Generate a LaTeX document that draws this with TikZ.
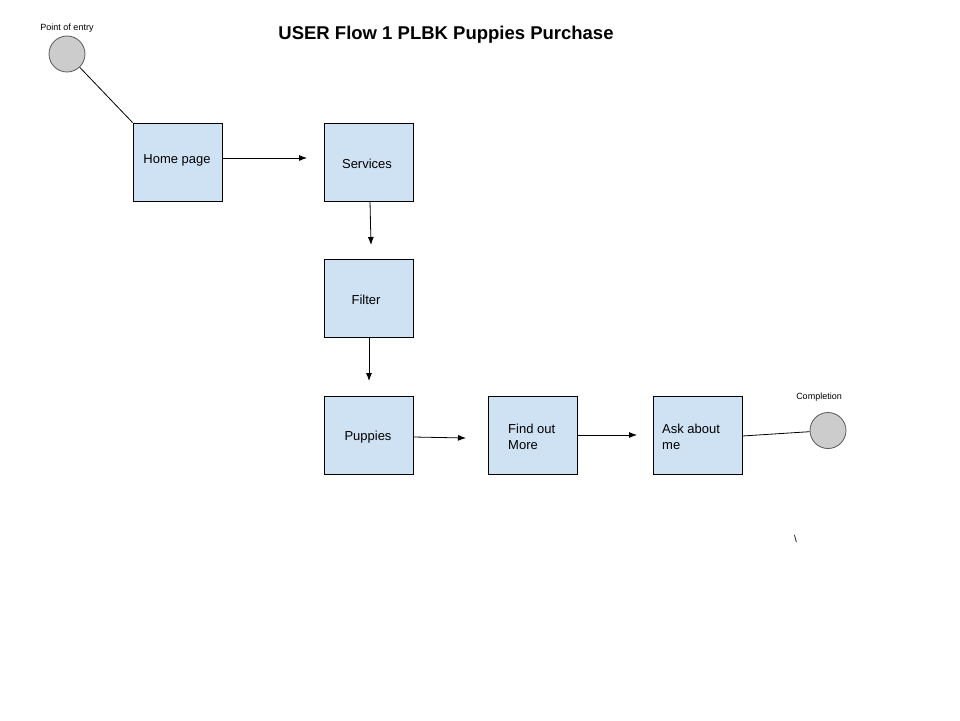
\documentclass[tikz,border=0pt]{standalone}
\usepackage{fontspec}
\setmainfont{Liberation Sans}
\usetikzlibrary{arrows.meta}
\definecolor{boxblue}{HTML}{CFE2F3}
\definecolor{circgray}{HTML}{CCCCCC}
\definecolor{circline}{HTML}{595959}
\tikzset{
  pagebox/.style={draw=black, line width=0.8pt, fill=boxblue, minimum width=89pt, minimum height=78pt, inner sep=0pt},
  boxtext/.style={font=\fontsize{13}{15}\selectfont, inner sep=0pt},
  endcircle/.style={circle, draw=circline, line width=0.8pt, fill=circgray, minimum size=36pt, inner sep=0pt},
  smalllabel/.style={font=\fontsize{9}{11}\selectfont, inner sep=0pt},
  flowarrow/.style={line width=0.8pt, -{Latex[length=8pt,width=6pt]}},
  flowline/.style={line width=0.8pt}
}
\begin{document}
\begin{tikzpicture}[x=1pt,y=-1pt]
\useasboundingbox (0,0) rectangle (960,720);
\node[font=\bfseries\fontsize{18.5}{22}\selectfont, inner sep=0pt] (title) at (446,35) {USER Flow 1 PLBK Puppies Purchase};

\node[endcircle] (entry) at (67,54) {};
\node[smalllabel] (entrylbl) at (67,28) {Point of entry};

\node[pagebox] (home) at (177.5,162) {};
\node[boxtext] (hometxt) at (177,160) {Home page};
\node[pagebox] (services) at (368.5,162) {};
\node[boxtext] (servtxt) at (367,164) {Services};
\node[pagebox] (filter) at (368.5,298.5) {};
\node[boxtext] (filttxt) at (366,300) {Filter};
\node[pagebox] (puppies) at (368.5,435.5) {};
\node[boxtext] (puptxt) at (368,437) {Puppies};
\node[pagebox] (findout) at (533,435.5) {};
\node[boxtext, align=left, anchor=west, font=\fontsize{13}{16}\selectfont] (findtxt) at (508,436.5) {Find out\\More};
\node[pagebox] (askme) at (697.5,435.5) {};
\node[boxtext, align=left, anchor=west, font=\fontsize{13}{16}\selectfont] (asktxt) at (662,436.5) {Ask about\\me};

\node[endcircle] (done) at (828,430.5) {};
\node[smalllabel] (donelbl) at (819,397) {Completion};
\node[smalllabel, font=\fontsize{10}{12}\selectfont] (mark) at (795.5,538.5) {\textbackslash};

\coordinate (a1) at (307,158);
\coordinate (a2) at (371,245);
\coordinate (a3) at (369,381);
\coordinate (a4) at (466,438);
\coordinate (a5) at (637,435);

\draw[flowline] (entry) -- (home.north west);
\draw[flowarrow] (home.east |- a1) -- (a1);
\draw[flowarrow] (services.south -| 370,0) -- (a2);
\draw[flowarrow] (filter.south -| a3) -- (a3);
\draw[flowarrow] (puppies.east |- 0,437) -- (a4);
\draw[flowarrow] (findout.east |- a5) -- (a5);
\draw[flowline] (askme.east |- 0,436) -- (done);
\end{tikzpicture}
\end{document}
